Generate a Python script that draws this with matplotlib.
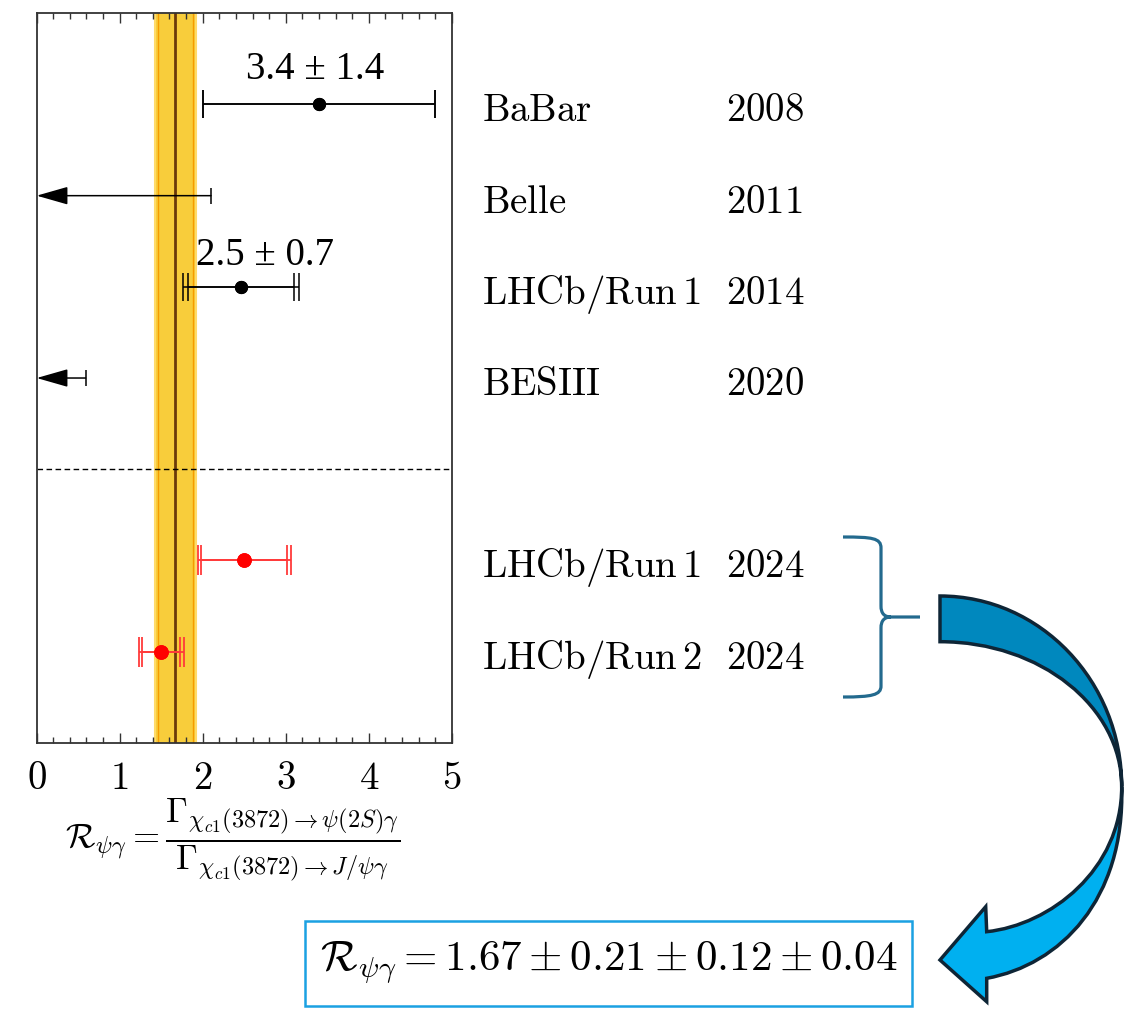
import matplotlib
matplotlib.use("Agg")
import matplotlib.pyplot as plt
import matplotlib.transforms as mtransforms
from matplotlib.path import Path
from matplotlib.patches import PathPatch, Rectangle

plt.rcParams["mathtext.fontset"] = "cm"

# ============================================================
# DATOS
# ============================================================
experiments = ["BaBar", "Belle", "LHCb/Run\\,1", "BESIII", "LHCb/Run\\,1", "LHCb/Run\\,2"]
years = ["2008", "2011", "2014", "2020", "2024", "2024"]
rows = [1, 2, 3, 4, 6, 7]

# mediciones previas (negro)
old_rows = [1, 3]
old_vals = [3.4, 2.46]
old_stat = [1.4, 0.64]
old_tot = [1.4, 0.70]

# limites superiores
lim_rows = [2, 4]
lim_vals = [2.1, 0.59]

# nuevas medidas LHCb (rojo)
new_rows = [6, 7]
new_vals = [2.50, 1.50]
new_stat = [0.52, 0.23]
new_tot = [0.56, 0.27]

# promedio
avg_val = 1.67
avg_err = 0.245

annot_text = ["3.4 ± 1.4", "2.5 ± 0.7"]
annot_x = [3.36, 2.75]
annot_y = [0.72, 2.76]

xticks = [0, 1, 2, 3, 4, 5]

W, H = 1139, 1009
fig = plt.figure(figsize=(W / 100, H / 100), dpi=100)
ax = fig.add_axes([0.0322, 0.2639, 0.3644, 0.7229])


def px(x, y):
    return (x / W, 1 - y / H)


# ============================================================
# BANDA PROMEDIO
# ============================================================
ax.axvspan(avg_val - avg_err, avg_val + avg_err, color="#F8CD3B", ec="#FFDB6A", lw=1.5, zorder=1)
ax.axvline(avg_val - avg_err + 0.035, color="#F59B00", lw=1.0, zorder=1.5)
ax.axvline(avg_val + avg_err - 0.035, color="#F59B00", lw=1.0, zorder=1.5)
ax.axvline(avg_val, color="#6B3A0A", lw=2.0, zorder=2)

ax.axhline(5, color="black", lw=1.0, ls=(0, (4, 2.5)), zorder=2)

# ============================================================
# PUNTOS
# ============================================================
ax.errorbar(old_vals, old_rows, xerr=old_tot, fmt="o", color="black", ms=8.5,
            elinewidth=1.1, capsize=10, capthick=1.1, zorder=4)
ax.errorbar(old_vals, old_rows, xerr=old_stat, fmt="o", color="black", ms=8.5,
            elinewidth=1.1, capsize=10, capthick=1.1, zorder=4)

ax.errorbar(new_vals, new_rows, xerr=new_tot, fmt="o", color="#FF0000", ecolor="#FF3A3A",
            ms=9.5, elinewidth=1.3, capsize=11, capthick=1.3, zorder=4)
ax.errorbar(new_vals, new_rows, xerr=new_stat, fmt="o", color="#FF0000", ecolor="#FF3A3A",
            ms=9.5, elinewidth=1.3, capsize=11, capthick=1.3, zorder=4)

for r, v in zip(lim_rows, lim_vals):
    ax.annotate("", xy=(0, r), xytext=(v, r),
                arrowprops=dict(arrowstyle="-|>,head_length=1.4,head_width=0.4",
                                mutation_scale=14, color="black", lw=1.1,
                                shrinkA=0, shrinkB=0), zorder=4, annotation_clip=False)
    ax.plot([v], [r], marker="|", ms=11, mew=1.1, color="black", zorder=4)

for t, x, y in zip(annot_text, annot_x, annot_y):
    ax.text(x, y, t, ha="center", va="baseline", fontsize=28,
            family="Liberation Serif", zorder=5)

# ============================================================
# EJES
# ============================================================
ax.set_xlim(0, 5)
ax.set_ylim(8, 0)
ax.set_yticks([])
ax.set_xticks(xticks, labels=[f"${t}$" for t in xticks])
ax.set_xticks([i * 0.2 for i in range(26)], minor=True)
ax.tick_params(axis="x", which="both", direction="in", top=True, width=1.0, colors="#333333")
ax.tick_params(axis="x", which="major", length=7, labelsize=28, pad=12, labelcolor="black")
ax.tick_params(axis="x", which="minor", length=4)
for s in ax.spines.values():
    s.set_color("#333333")
    s.set_linewidth(1.3)

fig.text(*px(233, 840), r"$\mathcal{R}_{\psi\gamma} = \dfrac{\Gamma_{\chi_{c1}(3872)\rightarrow\psi(2S)\gamma}}"
         r"{\Gamma_{\chi_{c1}(3872)\rightarrow J/\psi\gamma}}$",
         ha="center", va="center", fontsize=25)

# etiquetas a la derecha
lbl_tr = mtransforms.blended_transform_factory(fig.transFigure, ax.transData) + \
    mtransforms.ScaledTranslation(0, -17 / 100, fig.dpi_scale_trans)
for name, yr, r in zip(experiments, years, rows):
    ax.text(481.7 / W, r, rf"$\mathrm{{{name}}}$", transform=lbl_tr, ha="left",
            va="baseline", fontsize=28, clip_on=False)
    ax.text(726 / W, r, rf"$\mathrm{{{yr}}}$", transform=lbl_tr, ha="left",
            va="baseline", fontsize=28, clip_on=False)

# ============================================================
# LLAVE Y FLECHA
# ============================================================
M, L, C = Path.MOVETO, Path.LINETO, Path.CURVE4
brace = [
    (M, (843, 537)), (C, (872, 537)), (C, (881, 538)), (C, (881, 548)),
    (L, (881, 606)), (C, (881, 613)), (C, (884, 617)), (C, (891, 617)),
    (L, (920, 617)),
    (M, (891, 617)), (C, (884, 617)), (C, (881, 621)), (C, (881, 628)),
    (L, (881, 686)), (C, (881, 695)), (C, (872, 697)), (C, (843, 697)),
]
codes = [c for c, _ in brace]
verts = [px(*p) for _, p in brace]
fig.add_artist(PathPatch(Path(verts, codes), transform=fig.transFigure,
                         fill=False, ec="#236A8E", lw=2.3, capstyle="butt"))

top_part = [
    (M, (940, 596)), (C, (1040.4, 596)), (C, (1121.7, 681.4)), (C, (1121.7, 786.7)),
    (C, (1121.7, 706.6)), (C, (1040.4, 641.7)), (C, (940, 641.7)),
    (Path.CLOSEPOLY, (940, 596)),
]
fig.add_artist(PathPatch(Path([px(*p) for _, p in top_part], [c for c, _ in top_part]),
                         transform=fig.transFigure, fc="#0088BE", ec="#0E2536", lw=2.5,
                         joinstyle="miter"))

low_part = [
    (M, (1121.7, 786.7)), (C, (1125, 900)), (C, (1060, 965)), (C, (986.7, 978.3)),
    (L, (986.7, 1001.7)), (L, (940, 960)), (L, (985.7, 906.7)), (L, (986.7, 931.7)),
    (C, (1050, 925)), (C, (1121.7, 870)), (C, (1121.7, 786.7)),
    (Path.CLOSEPOLY, (1121.7, 786.7)),
]
fig.add_artist(PathPatch(Path([px(*p) for _, p in low_part], [c for c, _ in low_part]),
                         transform=fig.transFigure, fc="#00B0F0", ec="#0E2536", lw=2.5,
                         joinstyle="miter"))

# ============================================================
# RESULTADO
# ============================================================
x0, y0 = px(305, 1006)
fig.add_artist(Rectangle((x0, y0), 607 / W, 85 / H, transform=fig.transFigure,
                         fill=False, ec="#1BA1E2", lw=1.8))
fig.text(*px(609, 963), r"$\mathcal{R}_{\psi\gamma} = 1.67 \pm 0.21 \pm 0.12 \pm 0.04$",
         ha="center", va="center", fontsize=31)

fig.savefig("out.png", dpi=100)
